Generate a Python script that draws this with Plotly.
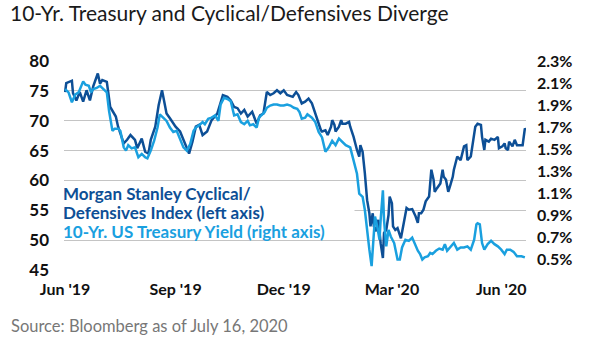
import pandas as pd
import plotly.graph_objects as go

START = "2019-06-03"

# Morgan Stanley Cyclical/Defensives Index (left axis) - day offsets from START and values
dark_day = [0, 1, 6, 7, 10, 13, 16, 19, 22, 25, 29, 31, 33, 37, 40, 43, 45, 47, 52, 55, 58, 62, 64, 68,
            71, 74, 76, 80, 83, 86, 88, 90, 93, 98, 102, 107, 110, 113, 116, 119, 122, 126, 130, 135,
            138, 140, 144, 147, 150, 153, 156, 159, 162, 166, 170, 173, 176, 179, 182, 185, 188, 191,
            194, 197, 202, 205, 207, 210, 213, 216, 219, 222, 225, 227, 228, 231, 233, 236, 237, 239,
            240, 243, 245, 246, 249, 252, 253, 256, 259, 261, 262, 264, 266, 267, 268, 270, 271, 273,
            274, 276, 278, 280, 282, 283, 285, 287, 288, 290, 291, 293, 295, 298, 301, 303, 305, 308,
            311, 313, 314, 316, 318, 320, 323, 325, 327, 328, 330, 333, 335, 336, 338, 340, 342, 344,
            345, 347, 348, 351, 354, 356, 357, 360, 363, 364, 366, 369, 370, 372, 373, 376, 378, 381,
            384, 385, 388, 390, 391, 393, 394, 397, 399, 401, 403, 406, 408, 409]
dark_val = [74.8, 76.3, 76.7, 74.6, 73.4, 74.8, 73.2, 75.1, 73.4, 75.8, 77.9, 76.2, 76.8, 76.5, 72.3, 71.2,
            70.7, 69.0, 66.2, 66.8, 67.6, 66.8, 65.4, 67.0, 64.8, 64.5, 66.8, 69.0, 72.6, 75.1, 73.4,
            71.2, 70.4, 69.0, 68.2, 65.9, 64.5, 66.5, 69.0, 69.3, 67.6, 68.2, 70.1, 71.2, 72.9, 74.3,
            74.0, 73.4, 72.3, 72.1, 71.2, 71.8, 70.7, 71.5, 69.5, 70.9, 71.2, 74.8, 74.3, 74.6, 75.1,
            74.6, 75.1, 74.3, 74.0, 74.8, 74.3, 72.9, 73.2, 73.7, 72.9, 71.2, 69.5, 68.4, 68.2, 68.4,
            67.6, 69.0, 70.1, 69.3, 68.2, 69.0, 70.1, 69.5, 69.5, 69.8, 69.0, 67.3, 65.1, 64.0, 65.9,
            64.8, 61.2, 59.0, 56.7, 54.5, 52.3, 54.5, 52.3, 51.5, 53.4, 49.5, 47.0, 51.2, 51.7, 54.2,
            57.3, 56.2, 52.3, 51.7, 52.0, 50.3, 53.1, 55.4, 55.1, 55.2, 54.0, 52.9, 54.5, 54.5, 55.1,
            56.5, 57.3, 61.8, 60.1, 58.1, 58.7, 59.5, 61.8, 60.6, 60.1, 58.1, 59.3, 60.6, 61.8, 63.4,
            64.0, 63.4, 65.7, 65.9, 63.4, 64.0, 67.3, 69.0, 69.5, 69.3, 67.3, 65.1, 66.8, 66.5, 67.0,
            66.8, 67.3, 65.4, 65.7, 66.2, 65.4, 65.1, 66.5, 65.7, 66.8, 65.9, 65.9, 65.9, 68.7, 68.4]

# 10-Yr. US Treasury Yield (right axis, %)
light_day = [0, 3, 6, 9, 12, 16, 18, 21, 23, 25, 28, 31, 34, 37, 39, 42, 44, 47, 49, 52, 54, 56, 59, 62,
             65, 68, 71, 73, 76, 79, 82, 84, 87, 90, 93, 96, 99, 102, 105, 108, 111, 114, 116, 119, 122,
             124, 127, 130, 133, 136, 138, 141, 144, 147, 150, 153, 156, 159, 162, 164, 167, 170, 172,
             175, 177, 179, 182, 185, 188, 191, 194, 197, 200, 203, 206, 208, 210, 213, 215, 219, 222,
             225, 228, 231, 234, 237, 240, 243, 246, 249, 253, 256, 259, 261, 264, 266, 268, 270, 272,
             274, 275, 277, 279, 280, 282, 283, 285, 287, 289, 292, 295, 297, 299, 302, 305, 308, 310,
             313, 315, 317, 319, 322, 324, 326, 329, 332, 335, 337, 339, 342, 345, 348, 351, 354, 357,
             360, 363, 365, 366, 368, 370, 372, 375, 378, 381, 384, 387, 390, 392, 395, 398, 401, 405, 408]
light_val = [2.05, 2.02, 1.93, 2.00, 2.02, 2.12, 2.09, 2.08, 2.02, 2.05, 2.06, 2.08, 2.05, 2.02, 1.85,
             1.67, 1.69, 1.69, 1.67, 1.52, 1.49, 1.54, 1.51, 1.52, 1.43, 1.46, 1.43, 1.42, 1.49, 1.58,
             1.70, 1.82, 1.79, 1.76, 1.70, 1.66, 1.67, 1.60, 1.52, 1.49, 1.55, 1.67, 1.70, 1.72, 1.75,
             1.73, 1.78, 1.79, 1.81, 1.76, 1.91, 1.97, 1.96, 1.94, 1.81, 1.82, 1.75, 1.73, 1.76, 1.72,
             1.73, 1.70, 1.79, 1.82, 1.84, 1.88, 1.90, 1.91, 1.91, 1.90, 1.90, 1.91, 1.90, 1.88, 1.87,
             1.84, 1.78, 1.79, 1.82, 1.79, 1.75, 1.66, 1.61, 1.48, 1.52, 1.58, 1.54, 1.60, 1.57, 1.54,
             1.52, 1.40, 1.28, 1.10, 1.07, 0.95, 0.74, 0.59, 0.44, 0.71, 0.89, 0.80, 0.68, 0.86, 1.13,
             0.86, 0.62, 0.77, 0.71, 0.65, 0.50, 0.50, 0.61, 0.68, 0.67, 0.70, 0.65, 0.58, 0.55, 0.50,
             0.52, 0.53, 0.56, 0.55, 0.58, 0.60, 0.59, 0.64, 0.58, 0.62, 0.65, 0.59, 0.61, 0.61, 0.62,
             0.59, 0.68, 0.82, 0.83, 0.82, 0.65, 0.59, 0.64, 0.67, 0.64, 0.62, 0.59, 0.55, 0.59, 0.59,
             0.57, 0.53, 0.53, 0.52]

tick_dates = ["2019-06-03", "2019-09-09", "2019-12-14", "2020-03-19", "2020-06-24"]
tick_labels = ["Jun '19", "Sep '19", "Dec '19", "Mar '20", "Jun '20"]
left_ticks = [45, 50, 55, 60, 65, 70, 75, 80]
right_ticks = [0.5, 0.7, 0.9, 1.1, 1.3, 1.5, 1.7, 1.9, 2.1, 2.3]
legend_lines = ["Morgan Stanley Cyclical/", "Defensives Index (left axis)",
                "10-Yr. US Treasury Yield (right axis)"]

DARK = "#0d4f96"
LIGHT = "#1aa0df"
FONT = "Lato"

dark_x = pd.Timestamp(START) + pd.to_timedelta(dark_day, unit="D")
light_x = pd.Timestamp(START) + pd.to_timedelta(light_day, unit="D")

fig = go.Figure()
fig.add_trace(go.Scatter(x=light_x, y=light_val, mode="lines", yaxis="y2",
                         line=dict(color=LIGHT, width=2.5), showlegend=False))
fig.add_trace(go.Scatter(x=dark_x, y=dark_val, mode="lines", yaxis="y",
                         line=dict(color=DARK, width=2.5), showlegend=False))

PW, PH, PL, PT = 462, 209, 64, 61


def px(xp):
    return (xp - PL) / PW


def py(yp):
    return (PT + PH - yp) / PH


fig.update_layout(
    width=605, height=341,
    margin=dict(l=PL, r=605 - PL - PW, t=PT, b=341 - PT - PH),
    paper_bgcolor="white", plot_bgcolor="white",
    font=dict(family=FONT, color="#111111"),
    title=dict(text="10-Yr. Treasury and Cyclical/Defensives Diverge",
               xref="container", yref="container", x=10/605, xanchor="left",
               y=1 - 6/341, yanchor="top",
               font=dict(family=FONT, size=21, color="#1a1a1a")),
    xaxis=dict(type="date", range=["2019-06-02", "2020-07-16"],
               tickvals=tick_dates, ticktext=tick_labels,
               showgrid=False, zeroline=False, showline=False, ticks="",
               ticklabelstandoff=8,
               tickfont=dict(family=FONT, size=16, color="#111111", weight="bold")),
    yaxis=dict(range=[45, 80], tickvals=left_ticks, showgrid=True,
               gridcolor="#c4c4c4", gridwidth=1, zeroline=False, ticks="",
               ticklabelstandoff=14,
               tickfont=dict(family=FONT, size=17, color="#111111", weight="bold")),
    yaxis2=dict(range=[0.405, 2.305], tickvals=right_ticks,
                ticktext=[f"{v:.1f}%" for v in right_ticks],
                overlaying="y", side="right", showgrid=False, zeroline=False, ticks="",
                ticklabelstandoff=10,
                tickfont=dict(family=FONT, size=16, color="#111111", weight="bold")),
)

# white backing box of the legend text (hides gridline behind it)
fig.add_annotation(text=" ", xref="paper", yref="paper", x=px(63), y=py(184),
                   xanchor="left", yanchor="top", showarrow=False, bgcolor="white",
                   width=290, height=52, borderpad=0)

legend_y = [193, 212, 231]
legend_colors = [DARK, DARK, LIGHT]
for txt, yy, col in zip(legend_lines, legend_y, legend_colors):
    fig.add_annotation(text=txt, xref="paper", yref="paper", x=px(62), y=py(yy),
                       xanchor="left", yanchor="middle", showarrow=False, borderpad=0,
                       font=dict(family=FONT, size=17, weight="bold", color=col))

fig.add_annotation(text="Source: Bloomberg as of July 16, 2020", xref="paper", yref="paper",
                   x=px(9), y=py(326), xanchor="left", yanchor="middle",
                   showarrow=False, font=dict(family=FONT, size=16.5, color="#777777"))

fig.write_html("out.html")
